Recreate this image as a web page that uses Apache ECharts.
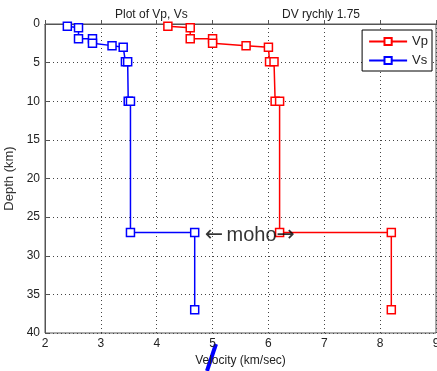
<!DOCTYPE html>
<html>
<head>
<meta charset="utf-8">
<script src="https://cdn.jsdelivr.net/npm/echarts@6/dist/echarts.min.js"></script>
<style>
html, body { margin: 0; padding: 0; background: #fff; }
#chart { width: 437px; height: 371px; }
</style>
</head>
<body>
<div id="chart"></div>
<script>
// velocity model, [velocity km/s, depth km]
var vpPoints = [
    [4.2, 0.3], [4.6, 0.5], [4.6, 1.9], [5.0, 1.9], [5.0, 2.5], [5.6, 2.8],
    [6.0, 3.0], [6.02, 4.9], [6.1, 4.9], [6.12, 10], [6.2, 10], [6.2, 27],
    [8.2, 27], [8.2, 37]
]
var vsPoints = [
    [2.4, 0.3], [2.6, 0.5], [2.6, 1.9], [2.85, 1.9], [2.85, 2.5], [3.2, 2.8],
    [3.4, 3.0], [3.44, 4.9], [3.48, 4.9], [3.49, 10], [3.53, 10], [3.53, 27],
    [4.68, 27], [4.68, 37]
]
var mohoLabel = [[4.86, 27]]
var xTicks = [2, 3, 4, 5, 6, 7, 8, 9]
var yTicks = [0, 5, 10, 15, 20, 25, 30, 35, 40]

var font = 'Liberation Sans'
var dom = echarts.init(document.getElementById('chart'))

var gridLine = {
    show: true,
    lineStyle: { color: '#444', type: [1, 3], width: 1 }
}

dom.setOption({
    animation: false,
    textStyle: { fontFamily: font },
    title: [
        {
            text: 'Plot of Vp, Vs',
            left: 110, top: 4,
            textStyle: { fontSize: 12, fontWeight: 'normal', color: '#222', fontFamily: font }
        },
        {
            text: 'DV rychly 1.75',
            left: 277, top: 4,
            textStyle: { fontSize: 12, fontWeight: 'normal', color: '#222', fontFamily: font }
        }
    ],
    grid: {
        left: 45, right: 1, top: 24, bottom: 38,
        outerBoundsMode: 'none',
        containLabel: false,
        show: true, borderColor: '#555', borderWidth: 1
    },
    legend: {
        right: 5, top: 30,
        orient: 'vertical',
        data: ['Vp', 'Vs'],
        backgroundColor: '#fff',
        borderColor: '#000', borderWidth: 1,
        padding: [5, 4, 4, 6],
        itemWidth: 38, itemHeight: 9, itemGap: 6,
        textStyle: { fontSize: 13, color: '#222', fontFamily: font }
    },
    xAxis: {
        type: 'value',
        min: xTicks[0], max: xTicks[xTicks.length - 1], interval: 1,
        name: 'Velocity (km/sec)',
        nameLocation: 'middle', nameGap: 21,
        nameTextStyle: { fontSize: 12, color: '#222' },
        axisLine: { lineStyle: { color: '#555' } },
        axisTick: { inside: true, length: 4, lineStyle: { color: '#555' } },
        axisLabel: { fontSize: 12, color: '#222', margin: 5 },
        splitLine: gridLine
    },
    yAxis: {
        type: 'value',
        inverse: true,
        min: yTicks[0], max: yTicks[yTicks.length - 1], interval: 5,
        name: 'Depth (km)',
        nameLocation: 'middle', nameGap: 26,
        nameTextStyle: { fontSize: 13, color: '#333' },
        axisLine: { lineStyle: { color: '#555' } },
        axisTick: { inside: true, length: 4, lineStyle: { color: '#555' } },
        axisLabel: { fontSize: 12, color: '#222', margin: 5 },
        splitLine: gridLine
    },
    series: [
        {
            name: 'Vp', type: 'line', data: vpPoints,
            symbol: 'rect', symbolSize: 8,
            color: '#ff0000',
            lineStyle: { width: 1.5, color: '#ff0000' },
            itemStyle: { color: '#fff', borderColor: '#ff0000', borderWidth: 1.5 }
        },
        {
            name: 'Vs', type: 'line', data: vsPoints,
            symbol: 'rect', symbolSize: 8,
            color: '#0000ff',
            lineStyle: { width: 1.5, color: '#0000ff' },
            itemStyle: { color: '#fff', borderColor: '#0000ff', borderWidth: 1.5 }
        },
        {
            name: 'moho', type: 'scatter', data: mohoLabel,
            symbolSize: 0, silent: true, z: 5, zlevel: 1,
            label: {
                show: true, position: 'right', distance: 0, offset: [0, 3],
                formatter: '{a|\u2190} {t|moho}{a|\u2192}',
                rich: {
                    a: { fontSize: 22, color: '#000', fontFamily: 'DejaVu Sans', verticalAlign: 'middle' },
                    t: { fontSize: 20, color: '#000', fontFamily: font, verticalAlign: 'middle' }
                }
            }
        }
    ],
    graphic: [
        {
            type: 'line',
            shape: { x1: 216, y1: 344, x2: 207, y2: 371 },
            style: { stroke: '#0000ff', lineWidth: 4 }
        }
    ]
})
</script>
</body>
</html>
